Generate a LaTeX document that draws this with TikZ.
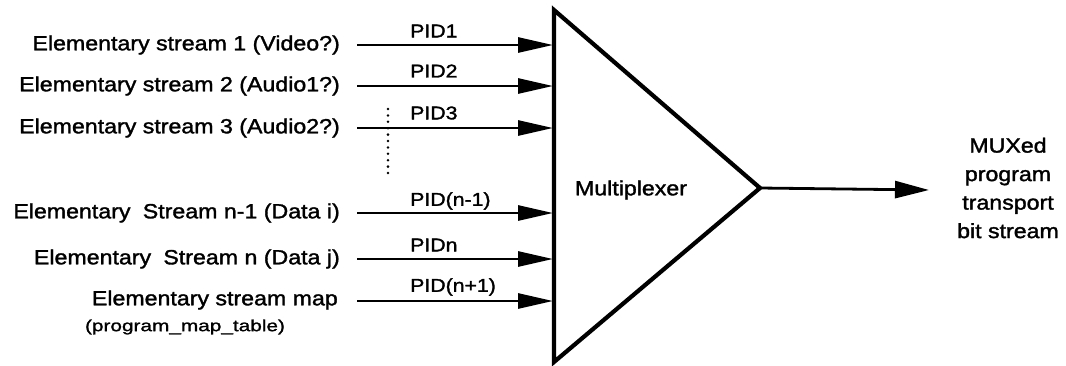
\documentclass[tikz,border=0pt]{standalone}
\usepackage{fontspec}
\usetikzlibrary{arrows.meta}
\newfontfamily\labfont{Liberation Sans}[FakeStretch=1.13,FakeBold=1.6]
\newfontfamily\pidfont{Liberation Sans}[FakeStretch=1.15,FakeBold=1.6]
\newfontfamily\smallfont{Liberation Sans}[FakeStretch=1.3,FakeBold=1.4]
\begin{document}
\begin{tikzpicture}[x=1pt,y=-1pt,
  lab/.style={font=\labfont\fontsize{20.5}{24}\selectfont, inner sep=0pt},
  pidlab/.style={font=\pidfont\fontsize{18.5}{22}\selectfont, inner sep=0pt, anchor=west},
  small/.style={font=\smallfont\fontsize{16}{18}\selectfont, inner sep=0pt},
  arr/.style={line width=2.8pt, -{Triangle[length=35pt,width=15pt]}},
  tri/.style={line width=4.2pt, line join=miter},
  dotline/.style={line width=2.8pt, line cap=round, dash pattern=on 0pt off 6.4pt}]
\useasboundingbox (0,0) rectangle (1066,365);
% triangle
\coordinate (tA) at (554,10);
\coordinate (tB) at (554,362);
\coordinate (tC) at (760,188);
\draw[tri] (tA) -- (tC) -- (tB) -- cycle;
\node[lab] (mux) at (631,190) {Multiplexer};
% left labels
\node[lab, anchor=east] (l1) at (340,45) {Elementary stream 1 (Video?)};
\node[lab, anchor=east] (l2) at (340,86) {Elementary stream 2 (Audio1?)};
\node[lab, anchor=east] (l3) at (340,128) {Elementary stream 3 (Audio2?)};
\node[lab, anchor=east] (l4) at (340,213) {Elementary\hspace{0.6em}Stream n-1 (Data i)};
\node[lab, anchor=east] (l5) at (340,259) {Elementary\hspace{0.6em}Stream n (Data j)};
\node[lab, anchor=east] (l6) at (338,300) {Elementary stream map};
\node[small] (l6b) at (185,327) {(program\_map\_table)};
% arrow starts and ends
\foreach \i/\y in {1/45,2/86,3/128,4/213,5/259,6/301}{
  \coordinate (s\i) at (357,\y);
  \coordinate (e\i) at (553,\y);
}
\foreach \i in {1,...,6}{ \draw[arr] (s\i) -- (e\i); }
% PID labels
\node[pidlab] (p1) at (410,31) {PID1};
\node[pidlab] (p2) at (410,71) {PID2};
\node[pidlab] (p3) at (410,113) {PID3};
\node[pidlab] (p4) at (410,201) {PID(n-1)};
\node[pidlab] (p5) at (410,245) {PIDn};
\node[pidlab] (p6) at (410,287) {PID(n+1)};
% dotted line
\coordinate (d1) at (388,109);
\coordinate (d2) at (388,178);
\draw[dotline] (d1) -- (d2);
% output
\coordinate (out) at (929,190);
\draw[arr, -{Triangle[length=34pt,width=17pt]}] (tC) -- (out);
\node[lab, align=center, font=\labfont\fontsize{20.5}{28.5}\selectfont] (mo) at (1008,188) {MUXed\\program\\transport\\bit stream};
\end{tikzpicture}
\end{document}
